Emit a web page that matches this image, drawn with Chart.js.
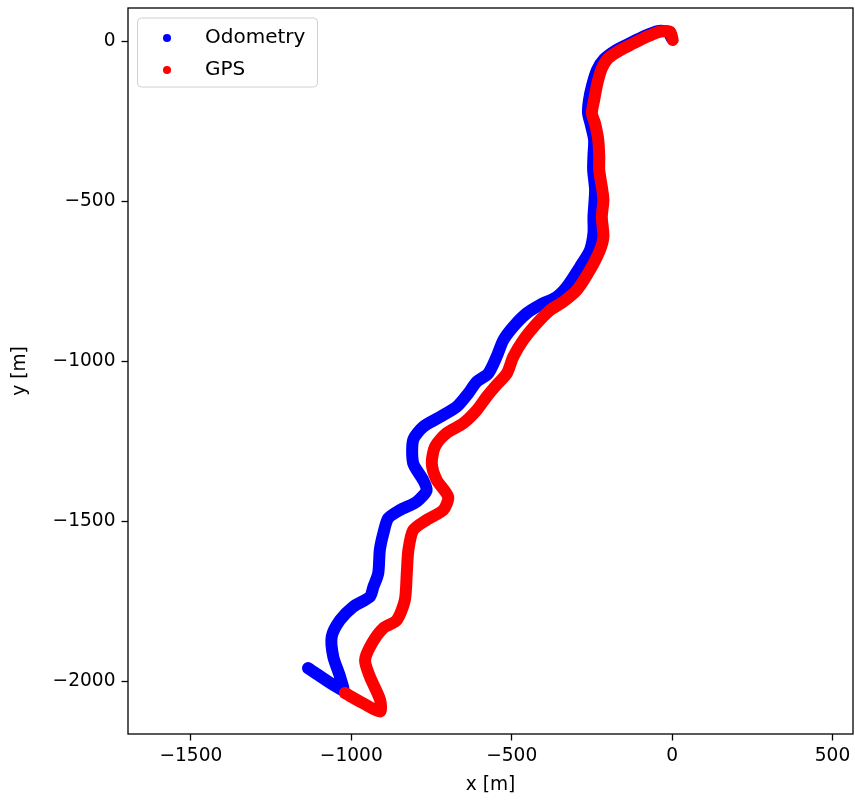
<!DOCTYPE html>
<html>
<head>
<meta charset="utf-8">
<script src="https://cdn.jsdelivr.net/npm/chart.js@4/dist/chart.umd.min.js"></script>
<style>
  body { margin: 0; background: #ffffff; }
  canvas { display: block; }
</style>
</head>
<body>
<canvas id="trajChart" width="855" height="802"></canvas>
<script>
// trajectory samples, metres
const seriesNames = ['Odometry', 'GPS'];
const seriesColors = ['#0000ff', '#ff0000'];

const odoX = [-2, -12, -44, -87, -131, -175, -212, -234, -249, -259, -262, -253, -243, -245, -246, -240, -245, -245, -256, -287,
  -328, -360, -412, -453, -495, -526, -547, -573, -609, -635, -671, -723, -776, -807, -807, -776, -765, -796, -848, -885,
  -900, -911, -916, -931, -942, -994, -1035, -1061, -1056, -1035, -1026, -1135];
const odoY = [12, 30, 33, 17, -5, -27, -55, -89, -136, -183, -223, -261, -308, -355, -402, -464, -548, -599, -652, -704,
  -766, -798, -823, -849, -891, -933, -985, -1037, -1063, -1099, -1141, -1173, -1204, -1245, -1318, -1370, -1402, -1438, -1464, -1490,
  -1537, -1589, -1662, -1704, -1735, -1766, -1808, -1860, -1923, -1985, -2027, -1958];

const gpsX = [2, -6, -37, -79, -121, -162, -199, -219, -233, -243, -250, -240, -230, -227, -227, -219, -214, -219, -214, -225,
  -256, -297, -339, -380, -422, -464, -495, -515, -547, -578, -609, -651, -703, -739, -749, -734, -698, -713, -765, -807,
  -822, -827, -833, -858, -900, -936, -957, -942, -910, -910, -963, -1020];
const gpsY = [5, 31, 31, 15, -6, -27, -52, -84, -131, -183, -224, -256, -308, -360, -402, -454, -495, -548, -610, -652,
  -714, -777, -813, -839, -881, -933, -985, -1037, -1073, -1110, -1152, -1193, -1224, -1266, -1318, -1370, -1423, -1464, -1495, -1527,
  -1589, -1662, -1745, -1808, -1833, -1881, -1933, -1985, -2058, -2094, -2068, -2036];

const xTicks = [-1500, -1000, -500, 0, 500];
const yTicks = [-2000, -1500, -1000, -500, 0];

const FONT = 'DejaVu Sans';
const FS = 18.6;
const LEGEND_FS = 20;

function toPoints(xs, ys) {
  return xs.map((x, i) => ({ x: x, y: ys[i] }));
}

function mathText(v) {
  return v < 0 ? '\u2212' + Math.abs(v) : String(v);
}

// frame round the plot area, like the matplotlib spines
const framePlugin = {
  id: 'frame',
  afterDatasetsDraw(chart) {
    const a = chart.chartArea;
    const ctx = chart.ctx;
    ctx.save();
    ctx.strokeStyle = '#000000';
    ctx.lineWidth = 1.3;
    ctx.strokeRect(a.left, a.top, a.right - a.left, a.bottom - a.top);
    ctx.restore();
  }
};

// legend box in the upper left corner
const boxLegend = {
  id: 'boxLegend',
  afterDraw(chart) {
    const a = chart.chartArea;
    const ctx = chart.ctx;
    const bx = a.left + 9.5, by = a.top + 10, bw = 180, bh = 69;
    ctx.save();
    ctx.beginPath();
    ctx.roundRect(bx, by, bw, bh, 4);
    ctx.fillStyle = 'rgba(255,255,255,0.8)';
    ctx.fill();
    ctx.strokeStyle = '#d0d0d0';
    ctx.lineWidth = 1;
    ctx.stroke();
    ctx.font = LEGEND_FS + 'px "' + FONT + '"';
    ctx.textBaseline = 'middle';
    chart.data.datasets.forEach((ds, i) => {
      const cy = by + 20 + i * 32;
      ctx.beginPath();
      ctx.arc(bx + 29.5, cy, 4, 0, Math.PI * 2);
      ctx.fillStyle = ds.borderColor;
      ctx.fill();
      ctx.fillStyle = '#000000';
      ctx.fillText(ds.label, bx + 67.5, cy);
    });
    ctx.restore();
  }
};

const ctx = document.getElementById('trajChart').getContext('2d');

const chart = new Chart(ctx, {
  type: 'scatter',
  data: {
    datasets: [
      {
        label: seriesNames[0],
        data: toPoints(odoX, odoY),
        showLine: true,
        borderColor: seriesColors[0],
        backgroundColor: seriesColors[0],
        borderWidth: 12,
        borderCapStyle: 'round',
        borderJoinStyle: 'round',
        tension: 0.25,
        pointRadius: 0,
        order: 1
      },
      {
        label: seriesNames[1],
        data: toPoints(gpsX, gpsY),
        showLine: true,
        borderColor: seriesColors[1],
        backgroundColor: seriesColors[1],
        borderWidth: 12,
        borderCapStyle: 'round',
        borderJoinStyle: 'round',
        tension: 0.25,
        pointRadius: 0,
        order: 0
      }
    ]
  },
  options: {
    responsive: false,
    animation: false,
    events: [],
    layout: { padding: { top: 8, right: 2, bottom: 0, left: 0 } },
    plugins: {
      legend: { display: false },
      tooltip: { enabled: false }
    },
    scales: {
      x: {
        type: 'linear',
        min: -1696,
        max: 564,
        afterBuildTicks: (scale) => { scale.ticks = xTicks.map(v => ({ value: v })); },
        afterFit: (scale) => {
          scale.height = 68;
          scale.paddingLeft = 0;
          scale.paddingRight = 0;
        },
        grid: { display: true, drawOnChartArea: false, drawTicks: true, tickLength: 6.5, tickWidth: 1.3, tickColor: '#000000' },
        border: { display: false },
        ticks: {
          color: '#000000',
          padding: 5,
          maxRotation: 0,
          font: { family: FONT, size: FS },
          callback: (v) => mathText(v)
        },
        title: {
          display: true,
          text: 'x [m]',
          color: '#000000',
          font: { family: FONT, size: FS },
          padding: { top: 0, bottom: 6 }
        }
      },
      y: {
        type: 'linear',
        min: -2164,
        max: 105,
        afterBuildTicks: (scale) => { scale.ticks = yTicks.map(v => ({ value: v })); },
        afterFit: (scale) => {
          scale.width = 128;
          scale.paddingTop = 0;
          scale.paddingBottom = 0;
        },
        grid: { display: true, drawOnChartArea: false, drawTicks: true, tickLength: 6.5, tickWidth: 1.3, tickColor: '#000000' },
        border: { display: false },
        ticks: {
          color: '#000000',
          padding: 6,
          font: { family: FONT, size: FS },
          callback: (v) => mathText(v)
        },
        title: {
          display: true,
          text: 'y [m]',
          color: '#000000',
          font: { family: FONT, size: FS },
          padding: { top: 9, bottom: 0 }
        }
      }
    }
  },
  plugins: [framePlugin, boxLegend]
});
</script>
</body>
</html>
